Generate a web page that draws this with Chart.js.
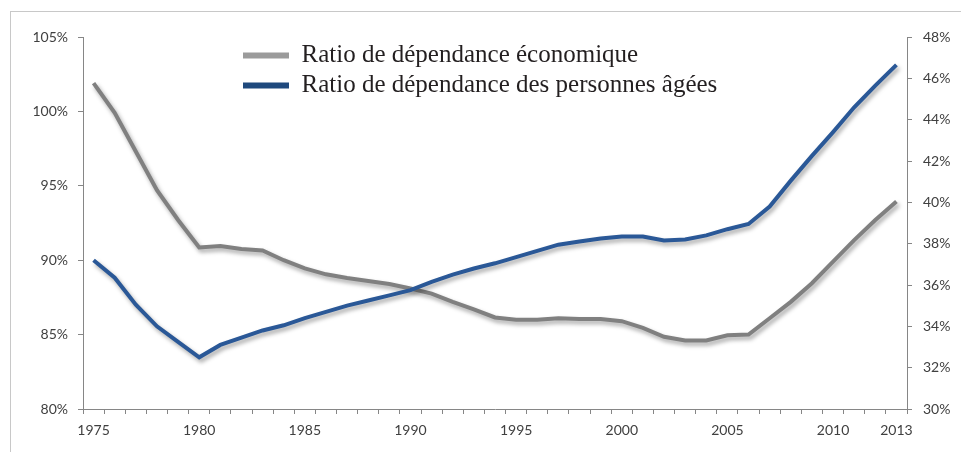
<!DOCTYPE html>
<html lang="fr">
  <head>
    <meta charset="UTF-8" />
    <title>Ratios de dépendance 1975-2013</title>
    <script src="https://cdn.jsdelivr.net/npm/chart.js"></script>
    <style>
      html, body { margin: 0; padding: 0; background: #fff; overflow: hidden; }
      .frame {
        position: absolute; left: 10px; top: 11px; width: 960px; height: 450px;
        border-top: 1px solid #c8c8c8; border-left: 1px solid #c8c8c8;
      }
      .chart-box { position: absolute; left: 0; top: 0; width: 961px; height: 452px; }
    </style>
  </head>
  <body>
    <div class="frame"></div>
    <div class="chart-box"><canvas id="chart"></canvas></div>

    <script>
      const years = [
        1975, 1976, 1977, 1978, 1979, 1980, 1981, 1982, 1983, 1984,
        1985, 1986, 1987, 1988, 1989, 1990, 1991, 1992, 1993, 1994,
        1995, 1996, 1997, 1998, 1999, 2000, 2001, 2002, 2003, 2004,
        2005, 2006, 2007, 2008, 2009, 2010, 2011, 2012, 2013
      ];
      const tickYears = [1975, 1980, 1985, 1990, 1995, 2000, 2005, 2010, 2013];

      // left axis (%)
      const economicRatio = [
        101.9, 99.9, 97.3, 94.7, 92.7, 90.85, 90.95, 90.75, 90.65, 90.0,
        89.45, 89.05, 88.8, 88.6, 88.4, 88.1, 87.75, 87.2, 86.7, 86.15,
        86.0, 86.0, 86.1, 86.05, 86.05, 85.9, 85.45, 84.85, 84.6, 84.6,
        84.95, 85.0, 86.1, 87.2, 88.45, 89.9, 91.35, 92.7, 93.95
      ];
      // right axis (%)
      const elderlyRatio = [
        37.2, 36.35, 35.05, 34.0, 33.25, 32.5, 33.1, 33.45, 33.8, 34.05,
        34.4, 34.7, 35.0, 35.25, 35.5, 35.75, 36.15, 36.5, 36.8, 37.05,
        37.35, 37.65, 37.95, 38.1, 38.25, 38.35, 38.35, 38.15, 38.2, 38.4,
        38.7, 38.95, 39.8, 41.05, 42.25, 43.4, 44.6, 45.65, 46.65
      ];

      const axisColor = "#868686";
      const labelColor = "#404040";
      const tickFont = { family: "Lato", size: 14 };

      // soft drop shadow under the lines
      const lineShadow = {
        id: "lineShadow",
        beforeDatasetsDraw(chart) {
          const c = chart.ctx;
          c.save();
          c.shadowColor = "rgba(0, 0, 0, 0.35)";
          c.shadowBlur = 4;
          c.shadowOffsetX = 2;
          c.shadowOffsetY = 3;
        },
        afterDatasetsDraw(chart) {
          chart.ctx.restore();
        },
      };

      // place the legend inside the plot, a bit to the right
      const legendShift = {
        id: "legendShift",
        afterLayout(chart) {
          const lg = chart.legend;
          const area = chart.chartArea;
          lg.left = area.left + 155;
          lg.right = chart.width;
          lg.top = area.top + 1;
          lg.bottom = area.bottom;
        },
      };

      new Chart(document.getElementById("chart"), {
        type: "line",
        data: {
          labels: years,
          datasets: [
            {
              label: "Ratio de dépendance économique",
              data: economicRatio,
              yAxisID: "y",
              borderColor: "#808080",
              backgroundColor: "#9b9b9b",
              borderWidth: 4,
              pointRadius: 0,
              tension: 0,
              order: 2,
            },
            {
              label: "Ratio de dépendance des personnes âgées",
              data: elderlyRatio,
              yAxisID: "y1",
              borderColor: "#2a5897",
              backgroundColor: "#1f497d",
              borderWidth: 4,
              pointRadius: 0,
              tension: 0,
              order: 1,
            },
          ],
        },
        options: {
          responsive: true,
          maintainAspectRatio: false,
          animation: false,
          layout: { padding: { top: 37, left: 0, right: 0, bottom: 0 } },
          plugins: {
            legend: {
              position: "chartArea",
              align: "start",
              labels: {
                color: "#231f20",
                font: { family: "Liberation Serif", size: 25 },
                boxWidth: 46,
                boxHeight: 6,
                padding: 5,
                sort: (a, b) => a.datasetIndex - b.datasetIndex,
                generateLabels: (chart) =>
                  Chart.defaults.plugins.legend.labels
                    .generateLabels(chart)
                    .map((item) => ({ ...item, lineWidth: 0 })),
              },
            },
          },
          scales: {
            x: {
              offset: true,
              grid: { offset: true, drawOnChartArea: false, tickLength: 5, color: axisColor },
              border: { color: axisColor },
              ticks: {
                autoSkip: false,
                maxRotation: 0,
                padding: 8,
                color: labelColor,
                font: tickFont,
                callback: (value, i) => (tickYears.includes(years[i]) ? String(years[i]) : ""),
              },
              afterFit: (scale) => { scale.height = 43; },
            },
            y: {
              position: "left",
              min: 80,
              max: 105,
              grid: { drawOnChartArea: false, tickLength: 5, color: axisColor },
              border: { color: axisColor },
              ticks: {
                stepSize: 5,
                padding: 10,
                color: labelColor,
                font: tickFont,
                callback: (value) => value + "%",
              },
              afterFit: (scale) => { scale.width = 83; },
            },
            y1: {
              position: "right",
              min: 30,
              max: 48,
              grid: { drawOnChartArea: false, tickLength: 5, color: axisColor },
              border: { color: axisColor },
              ticks: {
                stepSize: 2,
                padding: 11,
                color: labelColor,
                font: tickFont,
                callback: (value) => value + "%",
              },
              afterFit: (scale) => { scale.width = 54; },
            },
          },
        },
        plugins: [lineShadow, legendShift],
      });
    </script>
  </body>
</html>
